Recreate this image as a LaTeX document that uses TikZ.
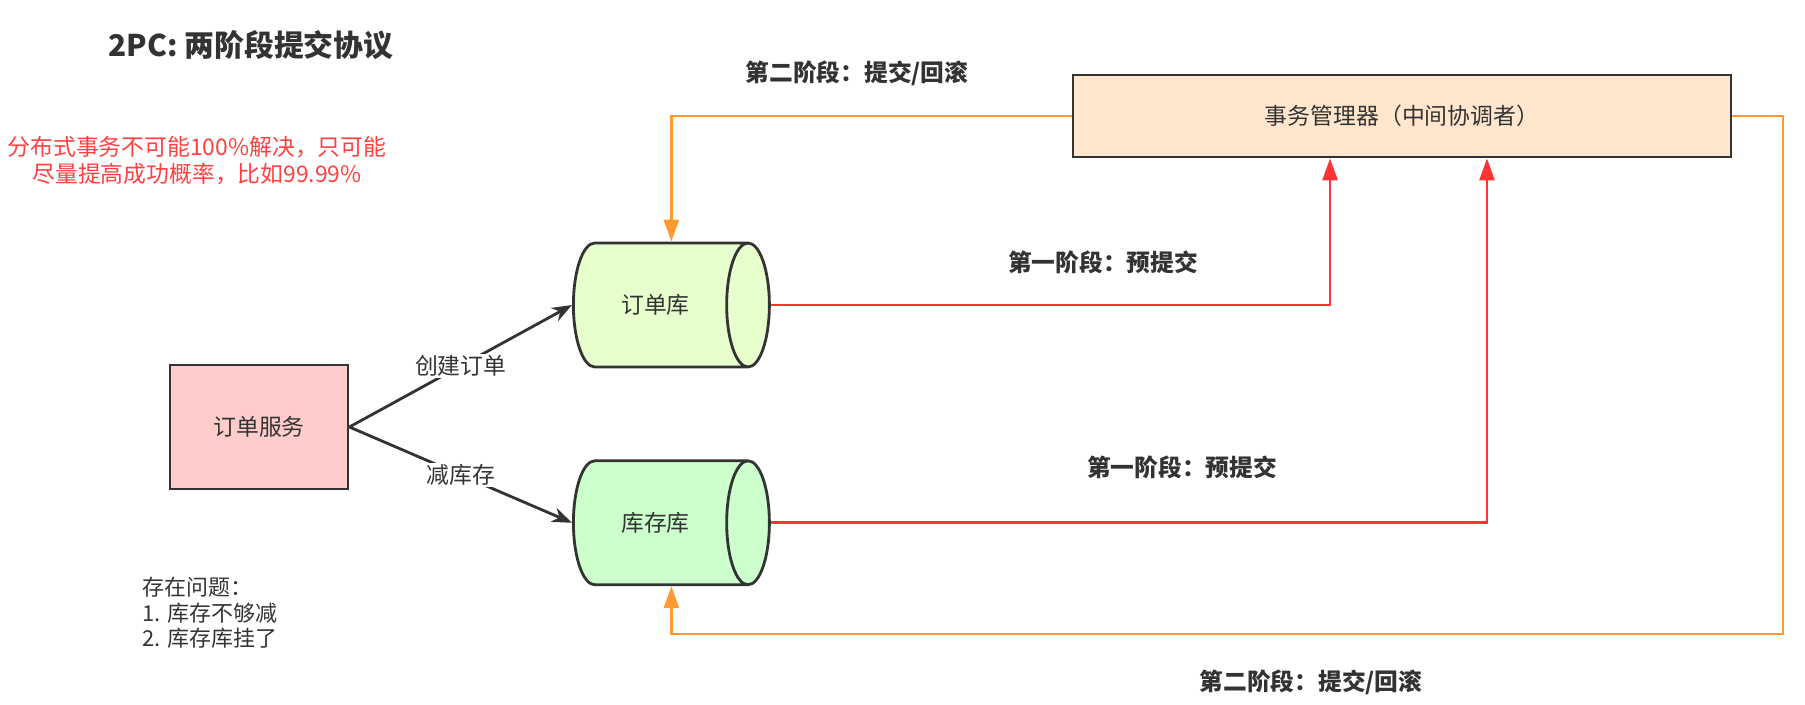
\documentclass[tikz,border=0pt]{standalone}
\usepackage{fontspec}
\setmainfont{Noto Sans CJK SC}
\usepackage{xcolor}
\usepackage{tikz}
\usetikzlibrary{arrows.meta,positioning,shapes.geometric}
\definecolor{inkgray}{HTML}{333333}
\definecolor{svcpink}{HTML}{FFCCCC}
\definecolor{orderlime}{HTML}{E6FFCC}
\definecolor{stockgreen}{HTML}{CCFFCC}
\definecolor{mgrpeach}{HTML}{FFE6CC}
\definecolor{prepred}{HTML}{FF3333}
\definecolor{commitorange}{HTML}{FF9933}
\definecolor{warnred}{HTML}{FF4040}
\tikzset{
  box/.style={rectangle, draw=inkgray, line width=1.6pt, text=inkgray,
    minimum width=#1, minimum height=2.48cm, inner sep=4pt,
    font=\fontsize{13}{15}\selectfont},
  box/.default=3.56cm,
  store/.style={cylinder, shape border rotate=0, aspect=1.3, draw=inkgray,
    line width=1.6pt, minimum width=2.48cm, minimum height=3.92cm,
    text=inkgray, font=\fontsize{13}{15}\selectfont},
  call/.style={-{Stealth[length=4mm,width=3mm]}, line width=1.6pt, draw=inkgray},
  prep/.style={-{Triangle[length=4.4mm,width=3mm]}, line width=1.6pt, draw=prepred},
  commit/.style={-{Triangle[length=4.4mm,width=3mm]}, line width=1.6pt, draw=commitorange},
  lbl/.style={fill=white, inner sep=1pt, text=inkgray, font=\fontsize{13}{15}\selectfont},
  phase/.style={text=inkgray, inner sep=0pt, font=\fontsize{13.5}{16}\selectfont\bfseries},
  note/.style={align=center, inner sep=0pt, font=\fontsize{13}{15.3}\selectfont},
}

\begin{document}
\begin{tikzpicture}[x=0.02cm, y=-0.02cm]
    \useasboundingbox (0,0) rectangle (1805,705);

    \node[text=inkgray, font=\fontsize{17}{20}\selectfont\bfseries] (title) at (251,45)
      {2PC: 两阶段提交协议};
    \node[note, text=warnred] (hint) at (197,161)
      {分布式事务不可能100\%解决，只可能\\尽量提高成功概率，比如99.99\%};
    \node[note, align=left, anchor=west, text=inkgray, font=\fontsize{12.5}{14.6}\selectfont]
      (issue) at (142,613) {存在问题：\\1. 库存不够减\\2. 库存库挂了};

    \node[box, fill=svcpink] (svc) at (259,427) {订单服务};
    \node[store, fill=orderlime, anchor=west] (orderdb) at (572,305) {订单库};
    \node[store, fill=stockgreen, below=18.2mm of orderdb] (stockdb) {库存库};
    \node[box=13.16cm, fill=mgrpeach, minimum height=1.64cm] (tm) at (1402,116)
      {事务管理器（中间协调者）};

    \coordinate (back) at (1783,634);

    \draw[call] (svc.east) -- node[lbl] {创建订单} (orderdb.west);
    \draw[call] (svc.east) -- node[lbl] {减库存} (stockdb.west);

    \draw[prep] (orderdb.east) -| ([xshift=-1.44cm]tm.south);
    \draw[prep] (stockdb.east) -| ([xshift=1.7cm]tm.south);
    \draw[commit] (tm.west) -| (orderdb.north -| orderdb.shape center);
    \draw[commit] (tm.east) -| (back) -| (stockdb.south -| stockdb.shape center);

    \node[phase] (p2top) at (857,73) {第二阶段：提交/回滚};
    \node[phase] (p1up) at (1103,262) {第一阶段：预提交};
    \node[phase] (p1low) at (1182,467) {第一阶段：预提交};
    \node[phase] (p2bot) at (1311,682) {第二阶段：提交/回滚};
\end{tikzpicture}
\end{document}
